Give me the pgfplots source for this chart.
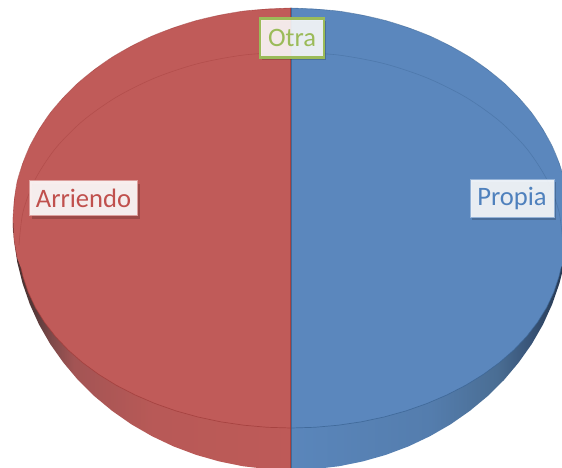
\documentclass[border=0pt]{standalone}
\usepackage{fontspec}
\setmainfont{Carlito}
\usepackage{pgfplots}
\usepackage{pgfplotstable}
\pgfplotsset{compat=1.18}
\usetikzlibrary{shadows}

\definecolor{pieRed}{HTML}{C05B59}
\definecolor{pieBlue}{HTML}{5B87BD}
\definecolor{lineRed}{HTML}{A03C3A}
\definecolor{lineBlue}{HTML}{3A6392}
\definecolor{txtRed}{HTML}{C0504D}
\definecolor{txtBlue}{HTML}{4F81BD}
\definecolor{txtGreen}{HTML}{9BBB59}

% side of the disc: dark only close to the tips
\pgfdeclarehorizontalshading{sideRed}{100bp}{
    rgb(0bp)=(.28,.19,.19);
    rgb(25bp)=(.28,.19,.19);
    rgb(28.6bp)=(.33,.22,.22);
    rgb(32bp)=(.5,.29,.29);
    rgb(36bp)=(.64,.33,.33);
    rgb(50bp)=(.72,.35,.34);
    rgb(75bp)=(.745,.353,.345);
    rgb(100bp)=(.745,.353,.345)}
\pgfdeclarehorizontalshading{sideBlue}{100bp}{
    rgb(0bp)=(.353,.525,.733);
    rgb(25bp)=(.353,.525,.733);
    rgb(50bp)=(.33,.49,.68);
    rgb(62bp)=(.29,.43,.58);
    rgb(68bp)=(.22,.33,.47);
    rgb(72bp)=(.17,.25,.36);
    rgb(75bp)=(.14,.2,.29);
    rgb(100bp)=(.14,.2,.29)}

% left half of the disc in pixels of the reference, the right half is its mirror about x=291
% side: outer outline, lower part
\pgfplotstableread{
x y
13 218
14.1 240
17.2 261.8
22.5 283.2
29.8 304.2
39 324.5
50.2 344
63.3 362.5
78 380
94.4 396.2
112.3 411
131.5 424.4
152 436.2
173.5 446.4
195.9 454.8
219.1 461.4
242.7 466.2
266.8 469
291 470
291 218
}\sidehalf

% face: top outline, then front edge of the face
\pgfplotstableread{
x y
291 8
266.8 8.8
242.7 11.2
219.1 15.2
195.9 20.7
173.5 27.7
152 36.1
131.5 46
112.3 57.1
94.4 69.5
78 83
63.3 97.5
50.2 113
39 129.3
29.8 146.2
22.5 163.7
17.2 181.5
14.1 199.7
13 218
14.1 240
17.2 258
21 268
23.1 276.8
28.3 292.4
35.4 307.6
44.5 322.3
55.4 336.5
68.2 350
82.6 362.6
98.7 374.4
116.2 385.2
135 394.9
155 403.5
176 410.9
198 417
220.6 421.8
243.8 425.2
267.3 427.3
291 428
}\facehalf

% front edge alone, for the darker line
\pgfplotstableread{
x y
21 268
23.1 276.8
28.3 292.4
35.4 307.6
44.5 322.3
55.4 336.5
68.2 350
82.6 362.6
98.7 374.4
116.2 385.2
135 394.9
155 403.5
176 410.9
198 417
220.6 421.8
243.8 425.2
267.3 427.3
291 428
}\fronthalf

% faint inner ring, back part
\pgfplotstableread{
x y
19 245
23.1 211.5
35.4 179
55.4 148.5
82.6 121
116.2 97.2
155 77.9
198 63.6
243.8 55
291 52
}\ringhalf

% top outline alone
\pgfplotstableread{
x y
291 8
242.7 11.2
195.9 20.7
152 36.1
112.3 57.1
78 83
50.2 113
29.8 146.2
17.2 181.5
13 218
14.1 240
17.2 258
}\tophalf

\begin{document}
\begin{tikzpicture}
\begin{axis}[
    scale only axis,
    width=562pt,
    height=468pt,
    xmin=0, xmax=562,
    ymin=0, ymax=468,
    y dir=reverse,
    hide axis,
    no markers,
    clip=true,
]
% side of the disc
\addplot[draw=none, shading=sideRed] table[x=x, y=y] {\sidehalf};
\addplot[draw=none, shading=sideBlue] table[x expr={582-\thisrow{x}}, y=y] {\sidehalf};

% face
\addplot[draw=none, fill=pieRed] table[x=x, y=y] {\facehalf};
\addplot[draw=none, fill=pieBlue] table[x expr={582-\thisrow{x}}, y=y] {\facehalf};

% rings and outlines
\addplot[lineRed, opacity=.4, line width=.6pt, smooth] table[x=x, y=y] {\ringhalf};
\addplot[lineBlue, opacity=.4, line width=.6pt, smooth] table[x expr={582-\thisrow{x}}, y=y] {\ringhalf};
\addplot[lineRed, opacity=.75, line width=.7pt] table[x=x, y=y] {\fronthalf};
\addplot[lineBlue, opacity=.75, line width=.7pt] table[x expr={582-\thisrow{x}}, y=y] {\fronthalf};
\addplot[lineRed, opacity=.6, line width=.6pt, smooth] table[x=x, y=y] {\tophalf};
\addplot[lineBlue, opacity=.6, line width=.6pt, smooth] table[x expr={582-\thisrow{x}}, y=y] {\tophalf};

% slice boundary
\addplot[lineRed, opacity=.8, line width=.6pt] coordinates {(290.7,8) (290.7,470)};
\addplot[lineBlue, opacity=.8, line width=.6pt] coordinates {(291.3,8) (291.3,470)};

% data labels
\tikzset{lbl/.style={inner sep=0pt, align=center, font=\fontsize{26.6}{28}\selectfont,
    drop shadow={shadow xshift=2pt, shadow yshift=-3pt, opacity=.18, fill=black}}}
\node[lbl, draw=txtRed!55!white, line width=1.4pt, fill=white, fill opacity=.9, text opacity=1,
    text=txtRed, minimum width=108pt, minimum height=35pt] at (axis cs:83.5,198) {Arriendo};
\node[lbl, draw=txtBlue!60!white, line width=1pt, fill=white, fill opacity=.88, text opacity=1,
    text=txtBlue, minimum width=84pt, minimum height=38pt] at (axis cs:512,198) {Propia};
\node[lbl, draw=txtGreen, line width=2.4pt, fill=white, fill opacity=.88, text opacity=1,
    text=txtGreen, minimum width=64pt, minimum height=39pt] at (axis cs:292,38) {Otra};
\end{axis}
\pgfresetboundingbox
\path[use as bounding box] (0,0) rectangle (562pt,468pt);
\end{tikzpicture}
\end{document}
